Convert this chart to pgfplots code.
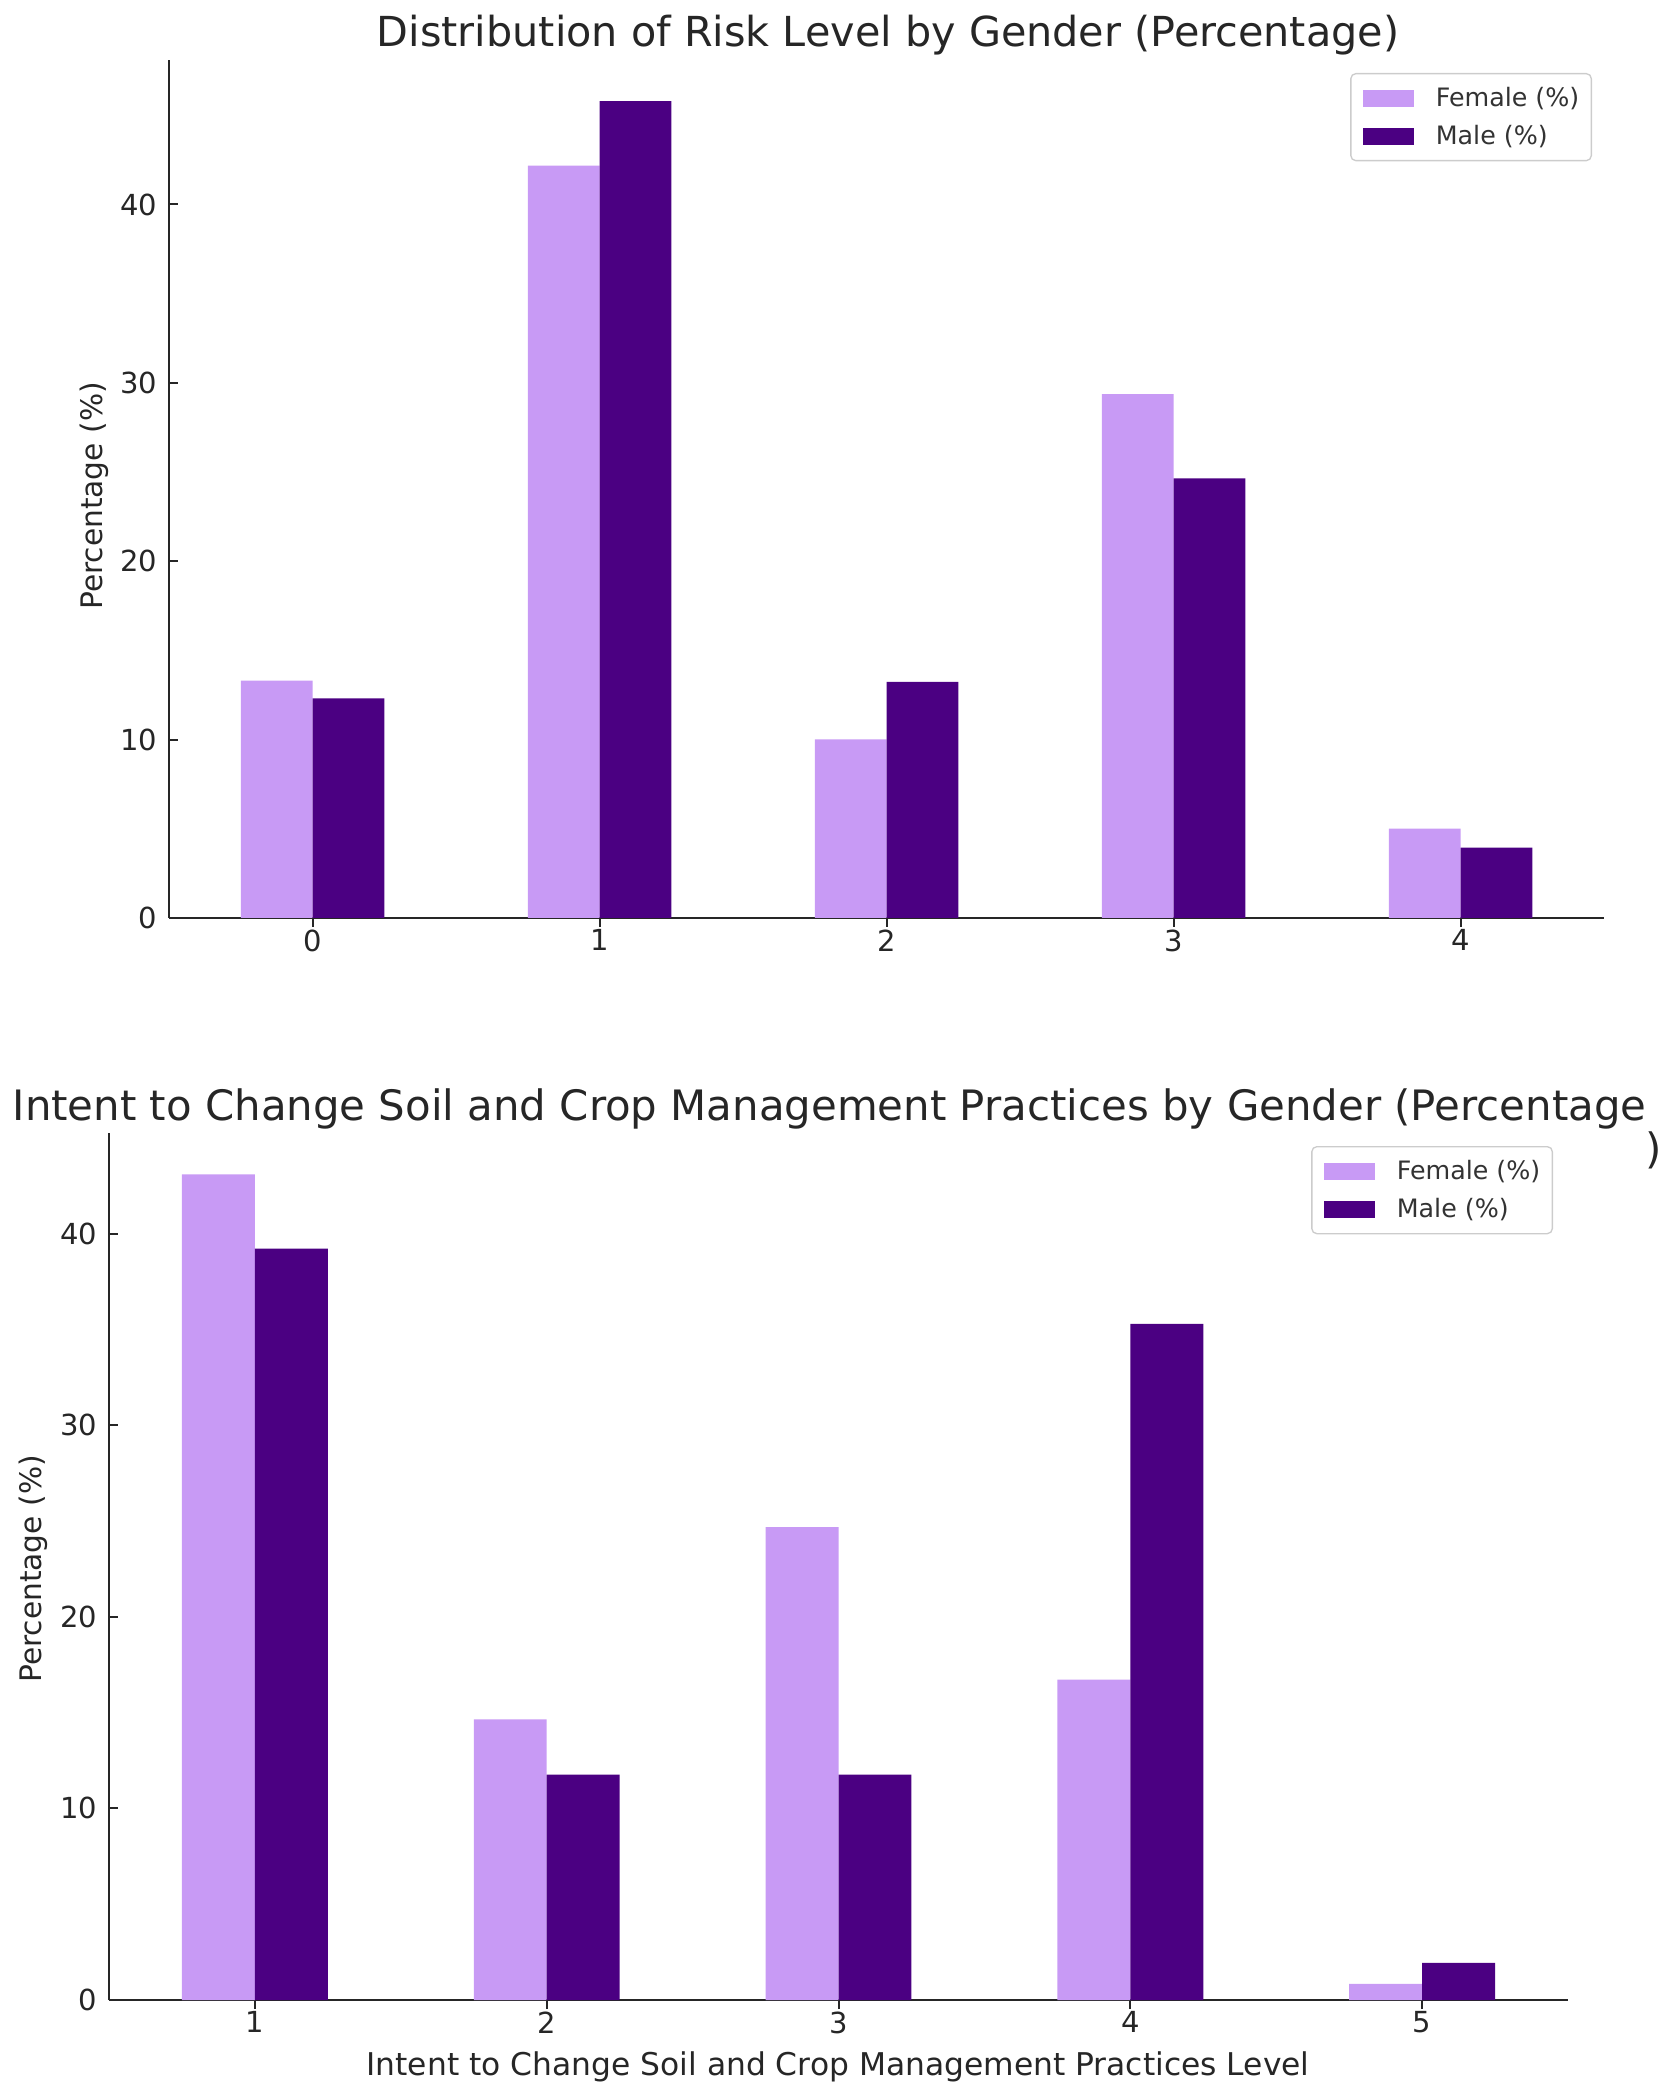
\documentclass[border=0pt]{standalone}
\usepackage{pgfplots}
\pgfplotsset{compat=1.18}
\usepackage{fontspec}
\setmainfont{DejaVu Sans}
\definecolor{fem}{HTML}{C89AF5}
\definecolor{mal}{HTML}{4B0082}
\definecolor{txt}{HTML}{262626}
\pgfplotsset{
  mystyle/.style={
    scale only axis,
    axis x line*=bottom, axis y line*=left,
    axis line style={-, line width=0.6pt, draw=txt},
    ymin=0,
    ytick={0,10,20,30,40},
    tick align=inside,
    major tick length=2.7pt,
    every tick/.style={line width=0.6pt, draw=txt},
    tick label style={font=\fontsize{8.7}{10}\selectfont, text=txt},
    xticklabel style={yshift=2.7pt},
    /pgf/number format/assume math mode=true,
    ybar=0pt, bar width=0.25,
    legend cell align=left,
    legend image code/.code={\fill[##1, sharp corners] (0pt,-2.55pt) rectangle (15.3pt,2.55pt); \path (21.9pt,0pt);},
    legend style={draw=black!20, rounded corners=1.5pt, fill=white,
      font=\fontsize{7.6}{9}\selectfont, text=black!80,
      inner xsep=3.6pt, inner ysep=3pt, row sep=2.7pt, column sep=0pt,
      nodes={inner sep=0pt, text height=6.8pt, text depth=1.9pt}},
  }
}
\begin{document}
\begin{tikzpicture}
\begin{axis}[mystyle,
  at={(50.7pt,-275.4pt)}, anchor=south west,
  width=430.5pt, height=257.4pt,
  xmin=-0.5, xmax=4.5, ymax=48.1,
  xtick={0,1,2,3,4},
  legend style={at={(1,1)}, anchor=north east, xshift=-3.6pt, yshift=-3.9pt}]
\addplot[fill=fem, draw=none] coordinates {(0,13.31) (1,42.18) (2,10.02) (3,29.37) (4,5.01)};
\addplot[fill=mal, draw=none] coordinates {(0,12.31) (1,45.8) (2,13.24) (3,24.65) (4,3.94)};
\legend{Female (\%), Male (\%)}
\end{axis}
\begin{axis}[mystyle,
  at={(32.7pt,-600pt)}, anchor=south west,
  width=437.7pt, height=260.1pt,
  xmin=0.5, xmax=5.5, ymax=45.26,
  xtick={1,2,3,4,5},
  legend style={at={(1,1)}, anchor=north east, xshift=-4.5pt, yshift=-3.9pt}]
\addplot[fill=fem, draw=none] coordinates {(1,43.1) (2,14.65) (3,24.69) (4,16.73) (5,0.84)};
\addplot[fill=mal, draw=none] coordinates {(1,39.23) (2,11.76) (3,11.76) (4,35.29) (5,1.94)};
\legend{Female (\%), Male (\%)}
\end{axis}
\begin{scope}[x=0.3pt, y=-0.3pt, every node/.style={text=txt}]
\node[anchor=base, inner sep=0, font=\fontsize{12.4}{14}\selectfont] at (888,47) {Distribution of Risk Level by Gender (Percentage)};
\node[rotate=90, anchor=center, inner sep=0, font=\fontsize{8.9}{10}\selectfont] at (94,496) {Percentage (\%)};
\node[anchor=base west, inner sep=0, font=\fontsize{12.56}{14}\selectfont] at (12,1120) {Intent to Change Soil and Crop Management Practices by Gender (Percentage};
\node[anchor=base west, inner sep=0, font=\fontsize{12.56}{14}\selectfont] at (1645,1163) {)};
\node[rotate=90, anchor=center, inner sep=0, font=\fontsize{8.9}{10}\selectfont] at (33,1569) {Percentage (\%)};
\node[anchor=base, inner sep=0, font=\fontsize{9.4}{10}\selectfont] at (838,2075) {Intent to Change Soil and Crop Management Practices Level};
\pgfresetboundingbox
\path (0,0) rectangle (1666,2099);
\end{scope}
\end{tikzpicture}
\end{document}
